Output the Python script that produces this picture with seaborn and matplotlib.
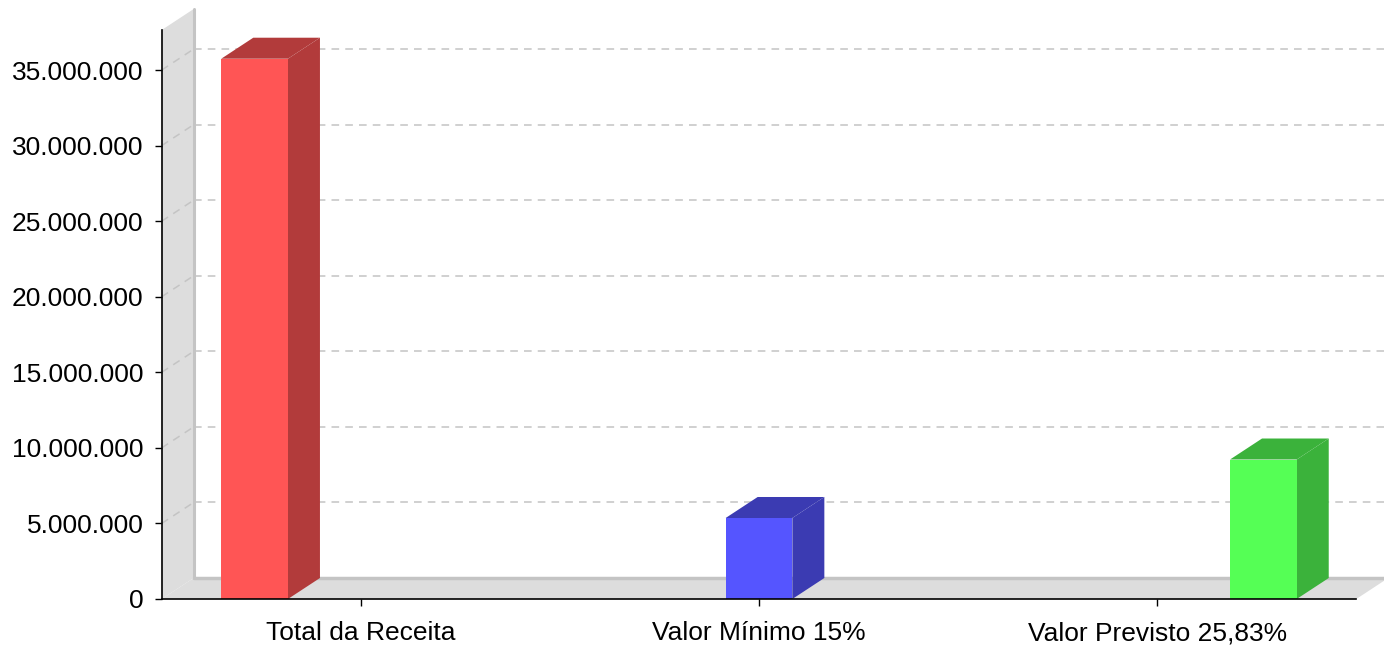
import matplotlib

matplotlib.use("Agg")

import matplotlib.pyplot as plt
import numpy as np
import pandas as pd
import seaborn as sns
from matplotlib.patches import Polygon
from matplotlib.ticker import FuncFormatter

# values
categories = ["Total da Receita", "Valor Mínimo 15%", "Valor Previsto 25,83%"]
values = [35_750_000, 5_360_000, 9_230_000]
front_colors = ["#ff5555", "#5555ff", "#55ff55"]
side_colors = ["#b23b3b", "#3b3bb2", "#3bb23b"]
y_ticks = [0, 5_000_000, 10_000_000, 15_000_000, 20_000_000, 25_000_000, 30_000_000, 35_000_000]

W, H = 1384, 647
Y_TOP = 37_650_000
DEPTH_PX = (32, 21)

df = pd.DataFrame({"category": categories, "value": values})

sns.set_style("ticks")
plt.rcParams["font.family"] = ["Liberation Sans", "DejaVu Sans"]

fig = plt.figure(figsize=(W / 100, H / 100), dpi=100)
ax = fig.add_axes([161.7 / W, 48 / H, 1194.6 / W, 569 / H])

sns.barplot(
    data=df,
    x="category",
    y="value",
    hue="category",
    palette=dict(zip(categories, front_colors)),
    dodge=True,
    width=0.8,
    gap=0.372,
    saturation=1,
    linewidth=0,
    legend=False,
    zorder=3,
    ax=ax,
)
bars = [p for p in ax.patches if p.get_height() > 0]

ax.set_xlim(-0.5, len(categories) - 0.5)
ax.set_ylim(0, Y_TOP)

# depth of the 3d effect in data units
cat_px = 1194.6 / len(categories)
dx = DEPTH_PX[0] / cat_px
dy = DEPTH_PX[1] / 569 * Y_TOP

wall = "#dddddd"
edge = "#c4c4c4"
x_left, x_right = -0.5, len(categories) - 0.5

# left wall and floor
ax.add_patch(Polygon([(x_left, 0), (x_left, Y_TOP), (x_left + dx, Y_TOP + dy), (x_left + dx, dy)],
                     closed=True, facecolor=wall, edgecolor="none", zorder=0.5, clip_on=False))
ax.add_patch(Polygon([(x_left, 0), (x_right, 0), (x_right + dx, dy), (x_left + dx, dy)],
                     closed=True, facecolor=wall, edgecolor="none", zorder=0.6, clip_on=False))
ax.plot([x_left + dx, x_left + dx], [dy, Y_TOP + dy], color=edge, lw=2.2, zorder=0.7, clip_on=False)
ax.plot([x_left + dx, x_right + dx], [dy, dy], color=edge, lw=2.5, zorder=0.7, clip_on=False)

# dashed gridlines on the back plane and across the wall
for v in y_ticks[1:]:
    ax.plot([x_left + dx, x_right + dx], [v + dy, v + dy], color="#c4c4c4", lw=1.1,
            ls=(0, (5, 4)), zorder=1, clip_on=False)
    ax.plot([x_left, x_left + dx], [v, v + dy], color="#c4c4c4", lw=1.1,
            ls=(0, (5, 4)), zorder=1, clip_on=False)

# side and top faces of each bar
for bar in bars:
    x0, w, h = bar.get_x(), bar.get_width(), bar.get_height()
    x1 = x0 + w
    idx = int(np.argmin([abs(h - v) for v in values]))
    dark = side_colors[idx]
    ax.add_patch(Polygon([(x1, 0), (x1, h), (x1 + dx, h + dy), (x1 + dx, dy)],
                         closed=True, facecolor=dark, edgecolor="none", zorder=2.5, clip_on=False))
    ax.add_patch(Polygon([(x0, h), (x1, h), (x1 + dx, h + dy), (x0 + dx, h + dy)],
                         closed=True, facecolor=dark, edgecolor="none", zorder=2.5, clip_on=False))

ax.set_yticks(y_ticks)
ax.yaxis.set_major_formatter(FuncFormatter(lambda v, _: f"{int(v):,}".replace(",", ".")))
ax.set_xlabel("")
ax.set_ylabel("")
ax.tick_params(axis="both", labelsize=19, colors="black", length=5, width=1, direction="out")
ax.tick_params(axis="y", pad=8)
ax.tick_params(axis="x", pad=11)
ax.set_facecolor("none")

sns.despine(ax=ax)
for side in ["left", "bottom"]:
    ax.spines[side].set_color("black")
    ax.spines[side].set_linewidth(1.2)
    ax.spines[side].set_zorder(4)

fig.savefig("out.png", dpi=100, facecolor="white")
